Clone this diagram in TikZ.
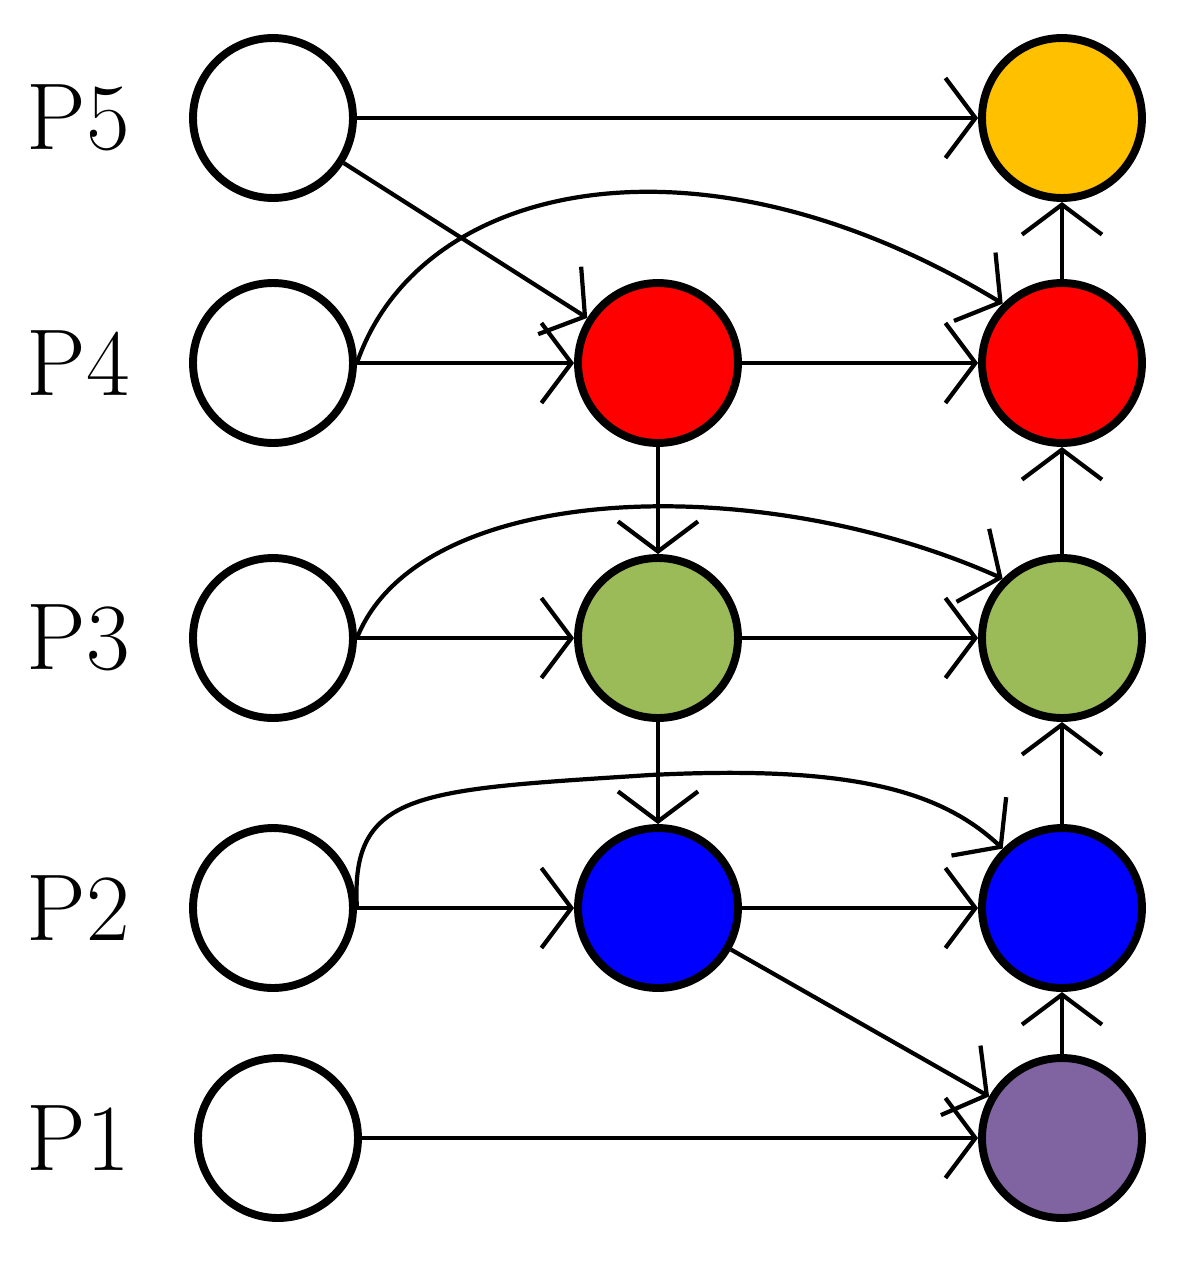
\documentclass[tikz,border=0pt]{standalone}
\usetikzlibrary{arrows.meta}
\definecolor{procYellow}{RGB}{255,192,0}
\definecolor{procRed}{RGB}{255,0,0}
\definecolor{procGreen}{RGB}{155,187,89}
\definecolor{procBlue}{RGB}{0,0,255}
\definecolor{procPurple}{RGB}{128,100,162}
\tikzset{proc/.style={circle, draw, line width=4.5pt, minimum size=3.2cm, inner sep=0pt}}
\tikzset{plabel/.style={font=\fontsize{54}{60}\selectfont}}
\tikzset{flow/.style={line width=2.4pt, -{Straight Barb[length=0.6cm, width=1.6cm, line width=2.4pt]}}}
\begin{document}
\begin{tikzpicture}[x=0.02cm, y=-0.02cm]
	\useasboundingbox (0,0) rectangle (1181,1262);
	% Nodes
	\node (l5) [proc] at (273,118) {};
	\node (l4) [proc] at (273,363) {};
	\node (l3) [proc] at (273,638) {};
	\node (l2) [proc] at (273,908) {};
	\node (l1) [proc] at (278,1138) {};

	\node (m4) [proc, fill=procRed] at (658,363) {};
	\node (m3) [proc, fill=procGreen] at (658,638) {};
	\node (m2) [proc, fill=procBlue] at (658,908) {};

	\node (r5) [proc, fill=procYellow] at (1062,118) {};
	\node (r4) [proc, fill=procRed] at (1062,363) {};
	\node (r3) [proc, fill=procGreen] at (1062,638) {};
	\node (r2) [proc, fill=procBlue] at (1062,908) {};
	\node (r1) [proc, fill=procPurple] at (1062,1138) {};

	\node (p5) [plabel] at (78,118) {P5};
	\node (p4) [plabel] at (78,363) {P4};
	\node (p3) [plabel] at (78,638) {P3};
	\node (p2) [plabel] at (78,908) {P2};
	\node (p1) [plabel] at (78,1138) {P1};

	% Connectors
	\begin{scope}[flow]
		\draw (l5) -- (r5);
		\draw (l5) -- (m4);
		\draw (l4) -- (m4);
		\draw (m4) -- (r4);
		\draw (l3) -- (m3);
		\draw (m3) -- (r3);
		\draw (l2) -- (m2);
		\draw (m2) -- (r2);
		\draw (l1) -- (r1);
		\draw (m4) -- (m3);
		\draw (m3) -- (m2);
		\draw (m2) -- (r1);
		\draw (r1) -- (r2);
		\draw (r2) -- (r3);
		\draw (r3) -- (r4);
		\draw (r4) -- (r5);
		\draw (l4.east) .. controls (420,180) and (700,120) .. (r4.north west);
		\draw (l3.east) .. controls (420,480) and (760,470) .. (r3.north west);
		\draw (l2.east) .. controls (350,790) and (420,790) .. (650,775) .. controls (850,765) and (940,790) .. (r2.north west);
	\end{scope}
\end{tikzpicture}
\end{document}
